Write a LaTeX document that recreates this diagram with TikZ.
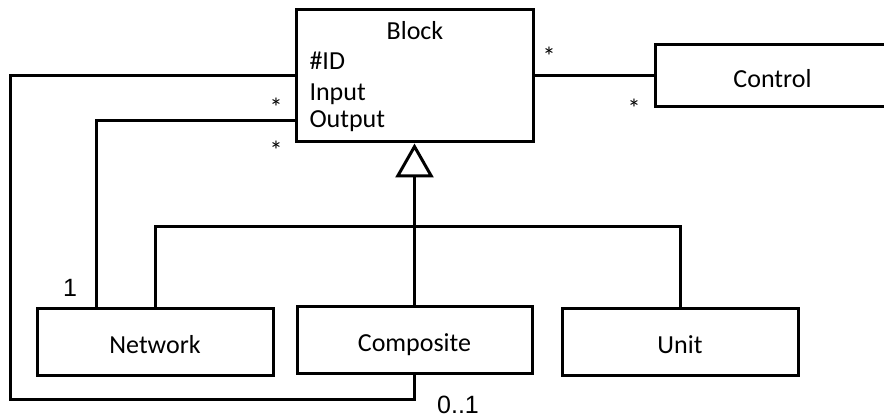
\documentclass[tikz,border=0pt]{standalone}
\usepackage{fontspec}
\setmainfont{Carlito}
\newfontfamily\numfont{Liberation Sans}
\usetikzlibrary{arrows.meta}

\begin{document}
\begin{tikzpicture}[x=0.5pt, y=-0.5pt, line width=1.5pt,
  box/.style={draw, rectangle, inner sep=0pt, line width=1.5pt},
  cls/.style={box, font=\fontsize{13}{15}\selectfont, text height=11.75pt, text depth=0pt},
  txt/.style={font=\fontsize{13}{15}\selectfont, inner sep=0pt},
  mult/.style={txt, anchor=base},
  num/.style={inner sep=0pt, anchor=base, font=\numfont\fontsize{12.5}{15}\selectfont},
  attr/.style={txt, anchor=base west},
  inherit/.style={-{Triangle[open, length=17pt, width=19pt, line width=1.5pt]}}]
\useasboundingbox (0,0) rectangle (884,417);

% class boxes
\node[box, minimum width=118.5pt, minimum height=66pt] (block) at (414.5,76) {};
\node[cls, minimum width=117.5pt, minimum height=31pt] (control) at (772.5,76) {Control};
\node[cls, minimum width=118pt, minimum height=33.5pt] (network) at (155,341.5) {Network};
\node[cls, minimum width=117.5pt, minimum height=33.5pt] (composite) at (414.5,339.5) {Composite};
\node[cls, minimum width=118pt, minimum height=33.5pt] (unit) at (680,341.5) {Unit};

% Block compartment text
\node[txt, anchor=base] (blockname) at (415,40) {Block};
\node[attr] (attrid) at (308,70) {\#ID};
\node[attr] (attrin) at (308,101) {Input};
\node[attr] (attrout) at (308,127) {Output};

% association Block -- Control
\draw (block.east) -- (control.west);
\node[mult] (mbc) at (549,65.5) {*};
\node[mult] (mcb) at (634,117.5) {*};

% association Block (Output) -- Network
\coordinate (outport) at (block.west |- 0,121);
\coordinate (netport) at (96,0);
\draw (outport) -| (netport |- network.north);
\node[mult] (min) at (276,116.5) {*};
\node[mult] (mout) at (276,159.5) {*};
\node[num] (mnet) at (70,296) {1};

% aggregation Composite -- Block
\coordinate (loopl) at (10,399);
\draw (block.west) -| (loopl) -| (composite.south);
\node[num] (mcomp) at (458,413) {0..1};

% generalisation
\coordinate (bar) at (414.5,226);
\draw[inherit] (composite.north) -- (block.south);
\draw (network.north) |- (bar) -| (unit.north);
\end{tikzpicture}
\end{document}
